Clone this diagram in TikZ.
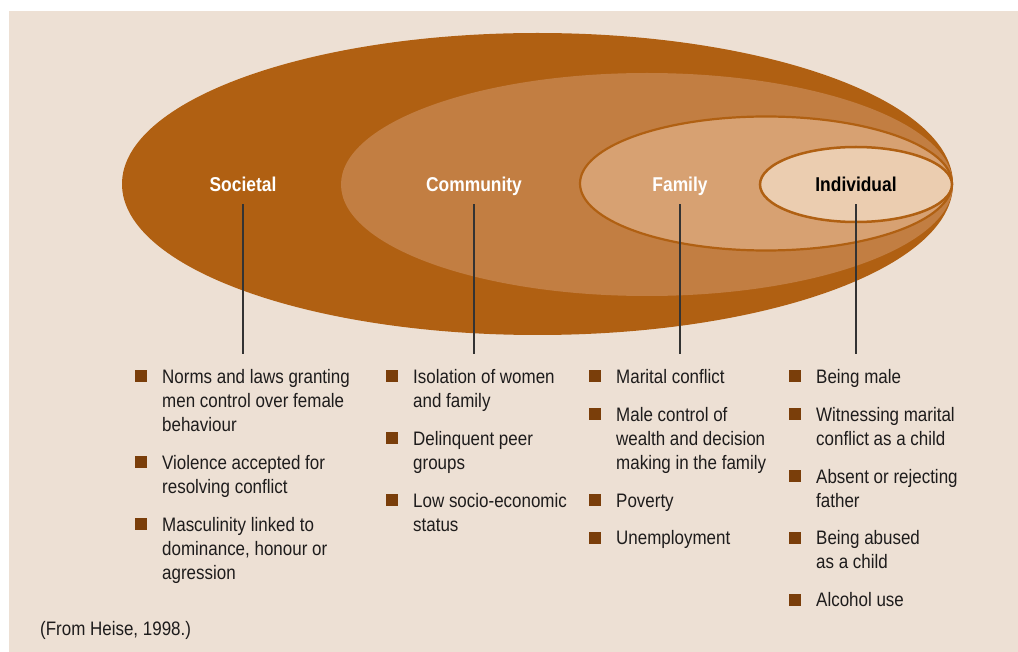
\documentclass[tikz,border=0pt]{standalone}
\usepackage{fontspec}
\setmainfont{Liberation Sans}[FakeStretch=0.87]
\usetikzlibrary{positioning}
\usetikzlibrary{calc}
\definecolor{bgbeige}{RGB}{237,224,212}
\definecolor{societalbrown}{RGB}{176,96,18}
\definecolor{communitybrown}{RGB}{194,126,66}
\definecolor{familytan}{RGB}{215,161,114}
\definecolor{individualtan}{RGB}{235,205,176}
\definecolor{bulletbrown}{RGB}{122,62,10}
\definecolor{textblack}{RGB}{30,28,28}
\tikzstyle{level}=[font=\fontsize{20}{24}\selectfont\bfseries,anchor=base,text height=15pt,text depth=0pt,inner xsep=2pt,inner ysep=12.5pt]
\tikzstyle{item}=[font=\fontsize{19.5}{24}\selectfont,text=textblack,text width=250pt,align=flush left,anchor=north west,inner sep=0pt,execute at begin node=\strut,execute at end node=\strut]
\tikzstyle{bullet}=[rectangle,fill=bulletbrown,minimum size=12pt,inner sep=0pt]
\tikzstyle{connector} = [draw,line width=1.6pt,black!80]
\tikzstyle{source}=[font=\fontsize{19.5}{24}\selectfont,text=textblack,anchor=base west,inner sep=0pt]

\begin{document}
\begin{tikzpicture}[x=1pt,y=-1pt]

    \useasboundingbox (0,0) rectangle (1018,652);
    \fill[white] (0,0) rectangle (1018,652);
    \fill[bgbeige] (9,11) rectangle (1018,652);

    % nested levels
    \fill[societalbrown] (537.5,184) ellipse [x radius=415.5, y radius=151];
    \fill[communitybrown] (647,184.5) ellipse [x radius=306, y radius=111.5];
    \filldraw[fill=familytan, draw=societalbrown, line width=2.2pt] (766,183.5) ellipse [x radius=186, y radius=67];
    \filldraw[fill=individualtan, draw=societalbrown, line width=2.5pt] (856,184.5) ellipse [x radius=96, y radius=37.5];

    \foreach \pos/\name/\label/\col in {{(243,191.5)/societal/Societal/white}, {(474,191.5)/community/Community/white}, {(680,191.5)/family/Family/white}, {(856,191.5)/individual/Individual/black}}
        \node[level,text=\col] (\name) at \pos {\label};

    \foreach \name/\x in {societal/243, community/474, family/680, individual/856}
        \coordinate (\name-end) at (\x,354);

    \foreach \name in {societal, community, family, individual}
        \path[connector] (\name) -- (\name-end);

    % first item of each column
    \foreach \pos/\name/\label in {{(162,366.2)/s1/{Norms and laws granting\\men control over female\\behaviour}}, {(413,366.2)/c1/{Isolation of women\\and family}}, {(616,366.2)/f1/{Marital conflict}}, {(816,366.2)/i1/{Being male}}}
        \node[item] (\name) at \pos {\label};

    \foreach \prev/\name/\label in {s1/s2/{Violence accepted for\\resolving conflict}, s2/s3/{Masculinity linked to\\dominance, honour or\\agression}, c1/c2/{Delinquent peer\\groups}, c2/c3/{Low socio-economic\\status}, f1/f2/{Male control of\\wealth and decision\\making in the family}, f2/f3/{Poverty}, f3/f4/{Unemployment}, i1/i2/{Witnessing marital\\conflict as a child}, i2/i3/{Absent or rejecting\\father}, i3/i4/{Being abused\\as a child}, i4/i5/{Alcohol use}}
        \node[item,below=13.5pt of \prev.south west,anchor=north west] (\name) {\label};

    \foreach \name in {s1,s2,s3,c1,c2,c3,f1,f2,f3,f4,i1,i2,i3,i4,i5}
        \node[bullet] (\name-b) at ($(\name.north west)+(-21,9.8)$) {};

    \node[source] (heise) at (40,635) {(From Heise, 1998.)};
\end{tikzpicture}
\end{document}
